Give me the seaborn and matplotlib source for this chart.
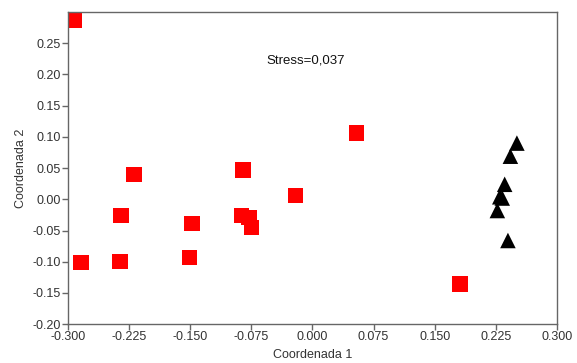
import matplotlib
matplotlib.use("Agg")
import matplotlib.pyplot as plt
import seaborn as sns
import pandas as pd

# Group A (red squares)
sq_x = [-0.293, -0.284, -0.219, -0.235, -0.236, -0.148, -0.151, -0.085, -0.087,
        -0.078, -0.075, -0.021, 0.054, 0.181]
sq_y = [0.287, -0.101, 0.040, -0.026, -0.100, -0.039, -0.093, 0.047, -0.026,
        -0.029, -0.045, 0.006, 0.106, -0.136]
# Group B (black triangles)
tr_x = [0.251, 0.243, 0.236, 0.230, 0.233, 0.227, 0.240]
tr_y = [0.090, 0.069, 0.024, 0.004, 0.002, -0.018, -0.066]

x_ticks = [-0.300, -0.225, -0.150, -0.075, 0.000, 0.075, 0.150, 0.225, 0.300]
y_ticks = [-0.20, -0.15, -0.10, -0.05, 0.00, 0.05, 0.10, 0.15, 0.20, 0.25]

df = pd.DataFrame({
    "x": sq_x + tr_x,
    "y": sq_y + tr_y,
    "g": ["A"] * len(sq_x) + ["B"] * len(tr_x),
})

sns.set_style("white")
plt.rcParams["font.family"] = ["Liberation Sans", "DejaVu Sans"]

fig = plt.figure(figsize=(5.77, 3.63), dpi=100)
ax = fig.add_axes([0.118, 0.107, 0.847, 0.860])

sns.scatterplot(data=df, x="x", y="y", hue="g", style="g",
                palette={"A": "#ff0000", "B": "#000000"},
                markers={"A": "s", "B": "^"},
                s=125, linewidth=0, legend=False, ax=ax)

ax.set_xlim(-0.300, 0.300)
ax.set_ylim(-0.20, 0.30)
ax.set_xticks(x_ticks)
ax.set_xticklabels([f"{v:.3f}" for v in x_ticks])
ax.set_yticks(y_ticks)
ax.set_yticklabels([f"{v:.2f}" for v in y_ticks])

for sp in ax.spines.values():
    sp.set_color("#666666")
    sp.set_linewidth(1.0)
ax.tick_params(axis="both", which="major", bottom=True, left=True,
               direction="out", length=4, width=1, color="#666666",
               labelsize=9, labelcolor="#333333", pad=1)

ax.set_xlabel("Coordenada 1", fontsize=9, color="#333333", labelpad=4)
ax.set_ylabel("Coordenada 2", fontsize=9, color="#333333", labelpad=4)

ax.text(-0.057, 0.223, "Stress=0,037", fontsize=9.5, color="#111111",
        ha="left", va="center")

fig.savefig("out.png", dpi=100)
